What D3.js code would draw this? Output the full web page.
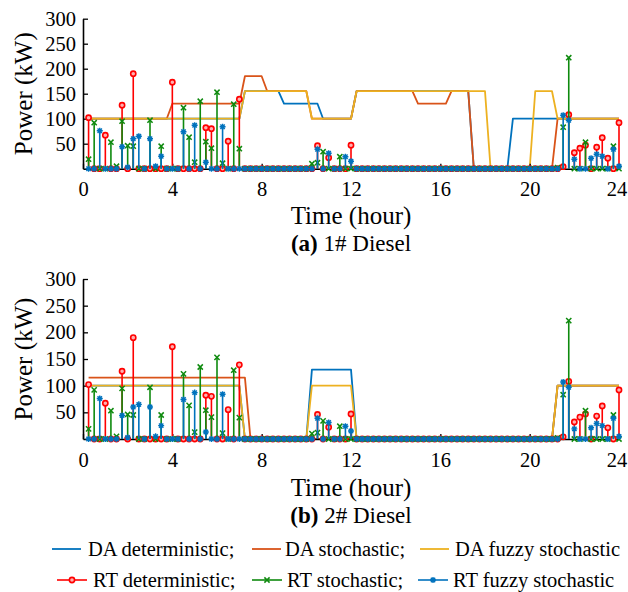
<!DOCTYPE html>
<html>
<head>
<meta charset="utf-8">
<script src="https://cdn.jsdelivr.net/npm/d3@7"></script>
<style>
  html, body { margin: 0; padding: 0; background: #fff; }
  svg { display: block; font-family: "Liberation Serif", "Times New Roman", serif; }
</style>
</head>
<body>
<svg id="chart" width="628" height="592"></svg>
<script>
// Time axis: 96 quarter-hour dispatch intervals (0.25 h … 24 h)
const hours = d3.range(1, 97).map(k => k / 4);
const xTicks = [0, 4, 8, 12, 16, 20, 24];
const yTicks = [50, 100, 150, 200, 250, 300];

// ---- Diesel 1: day-ahead schedules (kW), 12 intervals per row ----
const daDet1 = [
  100,100,100,100,100,100,100,100,100,100,100,100,
  100,100,100,100,100,100,100,100,100,100,100,100,
  100,100,100,100,155,155,155,155,155,155,155,130,
  130,130,130,130,130,130,100,100,100,100,100,100,
  155,155,155,155,155,155,155,155,155,155,155,155,
  155,155,155,155,155,155,155,155,155,0,0,0,
  0,0,0,0,100,100,100,100,100,100,100,100,
  100,100,100,100,100,100,100,100,100,100,100,100
];
const daSto1 = [
  100,100,100,100,100,100,100,100,100,100,100,100,
  100,100,100,130,130,130,130,130,130,130,130,130,
  130,130,130,130,185,185,185,185,155,155,155,155,
  155,155,155,155,100,100,100,100,100,100,100,100,
  155,155,155,155,155,155,155,155,155,155,155,130,
  130,130,130,130,130,155,155,155,155,0,0,0,
  0,0,0,0,0,0,0,0,0,0,0,0,
  100,100,100,100,100,100,100,100,100,100,100,100
];
const daFuz1 = [
  100,100,100,100,100,100,100,100,100,100,100,100,
  100,100,100,100,100,100,100,100,100,100,100,100,
  100,100,100,100,155,155,155,155,155,155,155,155,
  155,155,155,155,100,100,100,100,100,100,100,100,
  155,155,155,155,155,155,155,155,155,155,155,155,
  155,155,155,155,155,155,155,155,155,155,155,155,
  0,0,0,0,0,0,0,0,155,155,155,155,
  100,100,100,100,100,100,100,100,100,100,100,100
];

// ---- Diesel 2: day-ahead schedules (kW) ----
const daDet2 = [
  100,100,100,100,100,100,100,100,100,100,100,100,
  100,100,100,100,100,100,100,100,100,100,100,100,
  100,100,100,100,0,0,0,0,0,0,0,0,
  0,0,0,0,130,130,130,130,130,130,130,130,
  0,0,0,0,0,0,0,0,0,0,0,0,
  0,0,0,0,0,0,0,0,0,0,0,0,
  0,0,0,0,0,0,0,0,0,0,0,0,
  100,100,100,100,100,100,100,100,100,100,100,100
];
const daSto2 = [
  115,115,115,115,115,115,115,115,115,115,115,115,
  115,115,115,115,115,115,115,115,115,115,115,115,
  115,115,115,115,115,0,0,0,0,0,0,0,
  0,0,0,0,0,0,0,0,0,0,0,0,
  0,0,0,0,0,0,0,0,0,0,0,0,
  0,0,0,0,0,0,0,0,0,0,0,0,
  0,0,0,0,0,0,0,0,0,0,0,0,
  100,100,100,100,100,100,100,100,100,100,100,100
];
const daFuz2 = [
  100,100,100,100,100,100,100,100,100,100,100,100,
  100,100,100,100,100,100,100,100,100,100,100,100,
  100,100,100,100,0,0,0,0,0,0,0,0,
  0,0,0,0,100,100,100,100,100,100,100,100,
  0,0,0,0,0,0,0,0,0,0,0,0,
  0,0,0,0,0,0,0,0,0,0,0,0,
  0,0,0,0,0,0,0,0,0,0,0,0,
  100,100,100,100,100,100,100,100,100,100,100,100
];

// ---- Real-time adjustments (kW), shared by both units' panels ----
const rtDet = [
  102,0,0,67,0,0,127,0,190,0,0,0,
  0,0,0,173,0,0,0,0,0,82,80,0,
  0,55,0,139,0,0,0,0,0,0,0,0,
  0,0,0,0,0,46,0,22,0,0,0,47,
  0,0,0,0,0,0,0,0,0,0,0,0,
  0,0,0,0,0,0,0,0,0,0,0,0,
  0,0,0,0,0,0,0,0,0,0,0,0,
  0,4,108,32,41,47,0,43,62,21,0,92
];
const rtSto = [
  19,92,0,0,53,5,95,46,45,0,0,97,
  0,45,0,0,0,122,63,13,135,54,41,153,
  11,0,129,40,0,0,0,0,0,0,0,0,
  0,0,0,0,10,12,34,0,0,24,0,0,
  0,0,0,0,0,0,0,0,0,0,0,0,
  0,0,0,0,0,0,0,0,0,0,0,0,
  0,0,0,0,0,0,0,0,0,0,0,0,
  2,83,222,0,0,53,0,0,0,0,45,0
];
const rtFuz = [
  0,0,76,0,0,0,44,3,60,65,0,60,
  5,25,0,0,0,74,0,87,0,13,0,0,
  84,0,0,0,0,0,0,0,0,0,0,0,
  0,0,0,0,0,39,0,31,0,0,24,15,
  0,0,0,0,0,0,0,0,0,0,0,0,
  0,0,0,0,0,0,0,0,0,0,0,0,
  0,0,0,0,0,0,0,0,0,0,0,0,
  0,107,97,19,0,0,21,29,25,0,39,5
];

const daNames = ["DA deterministic;", "DA stochastic;", "DA fuzzy stochastic"];
const rtNames = ["RT deterministic;", "RT stochastic;", "RT fuzzy stochastic"];
const daColors = ["#0072BD", "#D95319", "#EDB120"];
const rtColors = ["#FF0000", "#0E8A0E", "#0072BD"];
const rtShapes = ["circle", "cross", "star"];

const svg = d3.select("#chart");
const x = d3.scaleLinear().domain([0, 24]).range([83, 619]);

function marker(sel, shape, color) {
  if (shape === "circle") {
    sel.append("circle").attr("r", 2.6).attr("fill", "#ffb0b0")
      .attr("stroke", color).attr("stroke-width", 1.6);
  } else if (shape === "cross") {
    sel.append("path").attr("d", "M-2.6,-2.6L2.6,2.6M-2.6,2.6L2.6,-2.6")
      .attr("stroke", color).attr("stroke-width", 1.5).attr("fill", "none");
  } else {
    sel.append("path").attr("d", "M-3,0L3,0M0,-3L0,3M-2.2,-2.2L2.2,2.2M-2.2,2.2L2.2,-2.2")
      .attr("stroke", color).attr("stroke-width", 1.4).attr("fill", "none");
  }
}

function panel(yRange, daSeries, labelY, tag, rest) {
  const y = d3.scaleLinear().domain([0, 300]).range(yRange);
  const g = svg.append("g");

  // day-ahead schedule lines
  const line = d3.line().x((d, i) => x(hours[i])).y(d => y(d));
  daSeries.forEach((s, j) => {
    g.append("path").datum(s).attr("d", line)
      .attr("fill", "none").attr("stroke", daColors[j])
      .attr("stroke-width", 1.8).attr("stroke-linejoin", "round");
  });

  // axes with inward ticks
  const ax = g.append("g").attr("transform", `translate(0,${y(0)})`)
    .call(d3.axisBottom(x).tickValues(xTicks).tickSizeInner(-5).tickSizeOuter(0).tickPadding(13));
  const ay = g.append("g").attr("transform", `translate(${x(0)},0)`)
    .call(d3.axisLeft(y).tickValues(yTicks).tickSizeInner(-5).tickSizeOuter(0).tickPadding(7));
  [ax, ay].forEach(a => {
    a.select(".domain").attr("stroke", "#000").attr("stroke-width", 1.6);
    a.selectAll(".tick line").attr("stroke", "#000").attr("stroke-width", 1.3);
    a.selectAll("text").attr("font-size", 20.5).attr("fill", "#000")
      .attr("font-family", "Liberation Serif, Times New Roman, serif");
  });
  // keep the last hour label inside the page edge
  ax.selectAll(".tick").filter(d => d === 24).select("text").attr("dx", -2.5);

  // real-time stems
  [rtDet, rtSto, rtFuz].forEach((s, j) => {
    const sg = g.append("g");
    sg.selectAll("line").data(s).join("line")
      .attr("x1", (d, i) => x(hours[i])).attr("x2", (d, i) => x(hours[i]))
      .attr("y1", y(0)).attr("y2", d => y(d))
      .attr("stroke", rtColors[j]).attr("stroke-width", 1.6);
    sg.selectAll("g").data(s).join("g")
      .attr("transform", (d, i) => `translate(${x(hours[i])},${y(d)})`)
      .each(function () { marker(d3.select(this), rtShapes[j], rtColors[j]); });
  });

  // axis titles
  g.append("text").attr("transform", `translate(23,${(yRange[0] + yRange[1]) / 2}) rotate(-90)`)
    .attr("text-anchor", "middle").attr("dominant-baseline", "central")
    .attr("font-size", 25).text("Power (kW)");
  g.append("text").attr("x", 351).attr("y", labelY)
    .attr("text-anchor", "middle").attr("font-size", 25).text("Time (hour)");
  const cap = g.append("text").attr("x", 351).attr("y", labelY + 27)
    .attr("text-anchor", "middle").attr("font-size", 23);
  cap.append("tspan").attr("font-weight", "bold").text(tag);
  cap.append("tspan").text(rest);
}

panel([168.7, 18.7], [daDet1, daSto1, daFuz1], 224, "(a)", " 1# Diesel");
panel([439, 279], [daDet2, daSto2, daFuz2], 496, "(b)", " 2# Diesel");

// legend
const legend = svg.append("g").attr("font-size", 20.5);
const daPos = [[52, 88], [252, 285], [420, 455]];
daNames.forEach((n, j) => {
  const [lx, tx] = daPos[j];
  legend.append("line").attr("x1", lx).attr("x2", lx + 29).attr("y1", 549).attr("y2", 549)
    .attr("stroke", daColors[j]).attr("stroke-width", 1.8);
  legend.append("text").attr("x", tx).attr("y", 549).attr("dominant-baseline", "central").text(n);
});
const rtPos = [[57, 93], [252, 287], [418, 453]];
rtNames.forEach((n, j) => {
  const [lx, tx] = rtPos[j];
  legend.append("line").attr("x1", lx).attr("x2", lx + 30).attr("y1", 580).attr("y2", 580)
    .attr("stroke", rtColors[j]).attr("stroke-width", 1.6);
  const m = legend.append("g").attr("transform", `translate(${lx + 15},580)`);
  marker(m, rtShapes[j], rtColors[j]);
  legend.append("text").attr("x", tx).attr("y", 580).attr("dominant-baseline", "central").text(n);
});
</script>
</body>
</html>
